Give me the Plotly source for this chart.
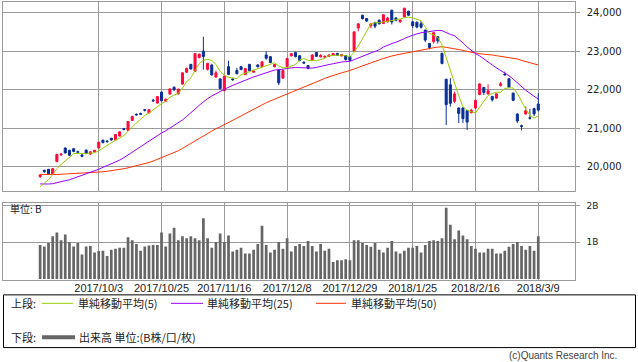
import plotly.graph_objects as go
import pandas as pd

# ---------------- data ----------------
# closes before the first visible day (needed for the moving averages' lead-in)
hist_close = [20056, 20032, 20082, 19994, 19929, 20081, 20195, 20098, 20100, 20119,
              20033, 20021, 20145, 20100, 19976, 19955, 20050, 20080, 19960, 19925,
              19986, 20080, 20029, 19952, 20056, 19996, 19739, 19730, 19537, 19753,
              19729, 19703, 19470, 19393, 19384, 19435, 19354, 19453, 19450, 19363,
              19507, 19646, 19691, 19508, 19386, 19358, 19397, 19275, 19546]

opens = [19735, 19900, 19925, 19800, 20125, 20300, 20480, 20420, 20460, 20385,
         20300, 20425, 20320, 20380, 20480, 20685, 20660, 20735, 20690, 20790,
         20985, 20940, 21195, 21360, 21375, 21480, 21395, 21725, 21650, 21935,
         21700, 21885, 22060, 21890, 22145, 22455, 22660, 22475, 22835, 23005,
         22530, 22645, 22330, 22280, 21975, 22600, 22280, 22500, 22600, 22390,
         22660, 22455, 22645, 22600, 22905, 22860, 22600, 22515, 22300, 22600,
         22880, 22970, 22885, 22715, 22627, 22775, 22970, 22855, 22845, 22870,
         22905, 22945, 22880, 22886, 22860, 23008, 23610, 23940, 23852, 23665,
         23750, 23810, 23723, 23767, 24070, 23870, 23770, 23896, 24044, 23767,
         23760, 23720, 23552, 23205, 23250, 23378, 22946, 22273, 22126, 21695,
         21522, 21522, 21454, 21400, 21522, 21870, 22058, 21890, 21824, 21780,
         22110, 22402, 22283, 21910, 21366, 21060, 21366, 21270, 21506, 21626]
highs = [19800, 19910, 19930, 19950, 20330, 20345, 20490, 20430, 20470, 20410,
         20310, 20440, 20395, 20430, 20640, 20690, 20680, 20740, 20840, 20910,
         21000, 21180, 21320, 21380, 21400, 21500, 21490, 21760, 21830, 21950,
         21770, 22030, 22090, 22030, 22450, 22570, 22670, 22950, 22940, 23380,
         22700, 22660, 22500, 22290, 22370, 22750, 22300, 22570, 22610, 22560,
         22670, 22520, 22660, 22740, 23000, 22870, 22670, 22530, 22510, 22830,
         22950, 22990, 22900, 22740, 22640, 22920, 22980, 22925, 22890, 22920,
         22950, 22960, 22930, 22900, 22870, 23520, 23730, 23950, 23865, 23730,
         23770, 23830, 23960, 23900, 24085, 23880, 23830, 24130, 24060, 23780,
         23770, 23790, 23560, 23210, 23500, 23400, 22960, 22280, 22300, 21950,
         21540, 21550, 21470, 21500, 21740, 22170, 22070, 22140, 21830, 21900,
         22200, 22470, 22300, 21920, 21380, 21090, 21565, 21500, 21530, 21910]
lows = [19700, 19830, 19790, 19780, 20110, 20280, 20340, 20270, 20370, 20330,
        20240, 20320, 20300, 20365, 20470, 20600, 20620, 20670, 20680, 20780,
        20940, 20930, 21190, 21320, 21340, 21430, 21380, 21680, 21640, 21700,
        21680, 21870, 21960, 21870, 22140, 22440, 22520, 22470, 22820, 22520,
        22500, 22370, 22310, 22000, 21960, 22380, 22230, 22400, 22510, 22380,
        22480, 22440, 22580, 22590, 22780, 22690, 22580, 22120, 22290, 22590,
        22870, 22840, 22740, 22670, 22530, 22760, 22850, 22840, 22830, 22850,
        22890, 22880, 22870, 22760, 22750, 23000, 23520, 23830, 23770, 23600,
        23600, 23700, 23720, 23750, 23700, 23780, 23740, 23880, 23920, 23610,
        23600, 23590, 23240, 23050, 23200, 23200, 22660, 21080, 21560, 21650,
        21130, 21130, 20950, 21380, 21500, 21860, 21860, 21870, 21690, 21760,
        22080, 22360, 22050, 21700, 21130, 20940, 21350, 21220, 21310, 21430]
closes = [19777, 19866, 19807, 19940, 20310, 20320, 20350, 20290, 20390, 20365,
          20260, 20345, 20380, 20420, 20630, 20620, 20645, 20690, 20830, 20900,
          20965, 21170, 21300, 21345, 21362, 21465, 21480, 21710, 21820, 21710,
          21750, 22020, 22000, 22012, 22440, 22555, 22540, 22940, 22925, 22865,
          22685, 22385, 22440, 22028, 22351, 22396, 22262, 22416, 22523, 22550,
          22496, 22486, 22597, 22725, 22819, 22707, 22655, 22177, 22498, 22811,
          22938, 22866, 22758, 22694, 22553, 22902, 22868, 22892, 22866, 22903,
          22939, 22892, 22911, 22784, 22765, 23506, 23715, 23850, 23788, 23710,
          23654, 23715, 23952, 23868, 23763, 23808, 23816, 24124, 23940, 23669,
          23632, 23629, 23292, 23098, 23486, 23274, 22682, 21610, 21645, 21890,
          21382, 21245, 21154, 21465, 21720, 22149, 21925, 21970, 21736, 21892,
          22154, 22390, 22068, 21724, 21182, 21042, 21450, 21253, 21368, 21469]
# volume in billions
volume = [0.93, 0.886, 0.98, 1.165, 1.27, 1.06, 1.217, 1.0, 0.886, 0.98,
          0.668, 0.886, 0.90, 0.72, 0.764, 0.773, 0.625, 0.80, 0.825, 0.851,
          0.851, 1.138, 1.06, 0.956, 0.773, 0.886, 0.912, 0.93, 0.93, 1.27,
          0.886, 1.243, 1.40, 1.06, 1.165, 1.112, 1.165, 1.112, 1.06, 1.66,
          1.112, 0.851, 1.008, 1.243, 1.008, 1.19, 0.747, 0.80, 0.851, 0.695,
          0.695, 0.80, 0.956, 1.45, 0.93, 0.72, 0.80, 1.008, 0.825, 1.112,
          0.747, 0.903, 0.956, 0.903, 1.034, 0.903, 0.747, 0.956, 0.773, 0.825,
          0.46, 0.512, 0.512, 0.538, 0.512, 1.06, 1.06, 0.98, 0.93, 0.877,
          0.98, 0.80, 0.72, 0.851, 1.034, 0.747, 0.695, 0.773, 0.851, 0.851,
          0.903, 0.72, 0.93, 1.034, 1.06, 1.034, 1.112, 1.948, 1.478, 1.086,
          1.321, 1.19, 1.086, 0.903, 0.825, 0.72, 0.72, 0.825, 0.825, 0.695,
          0.695, 0.773, 0.877, 0.956, 1.008, 0.903, 0.80, 0.903, 0.773, 1.165]

tick_labels = ["2017/10/3", "2017/10/25", "2017/11/16", "2017/12/8",
               "2017/12/29", "2018/1/25", "2018/2/16", "2018/3/9"]
tick_idx = [14, 29, 44, 59, 74, 89, 104, 119]

price_ticks = [20000, 21000, 22000, 23000, 24000]
vol_ticks = [1, 2]
vol_tick_text = ["1B", "2B"]

# ---------------- derived ----------------
n = len(closes)
xs = list(range(n))
allc = pd.Series(hist_close + closes, dtype=float)
nh = len(hist_close)
ma5 = allc.rolling(5).mean().iloc[nh:].tolist()
ma25 = allc.rolling(25).mean().iloc[nh:].tolist()
ma50 = allc.rolling(50).mean().iloc[nh:].tolist()

RED = "#ff0a3c"
BLUE = "#0a2f96"
C5 = "#99cc00"
C25 = "#9900ff"
C50 = "#ff3300"
GRID = "#9a9a9a"

W, H = 638, 362
def pxx(x): return x / W
def pyy(y): return 1 - y / H

fig = go.Figure()
fig.add_trace(go.Candlestick(
    x=xs, open=opens, high=highs, low=lows, close=closes,
    increasing=dict(line=dict(color=RED, width=1), fillcolor=RED),
    decreasing=dict(line=dict(color=BLUE, width=1), fillcolor=BLUE),
    whiskerwidth=0, xaxis="x", yaxis="y", showlegend=False, hoverinfo="skip"))
for vals, col in [(ma50, C50), (ma25, C25), (ma5, C5)]:
    fig.add_trace(go.Scatter(x=xs, y=vals, mode="lines", line=dict(color=col, width=1),
                             xaxis="x", yaxis="y", showlegend=False, hoverinfo="skip"))
fig.add_trace(go.Bar(x=xs, y=volume, width=0.65, marker=dict(color="#666666", line=dict(width=0)),
                     xaxis="x2", yaxis="y2", showlegend=False, hoverinfo="skip"))

xdom = [pxx(3.3), pxx(574.7)]
xr = [-8.8, 127.7]
axfont = dict(family="DejaVu Sans", size=10, color="#222222")

fig.update_layout(
    width=W, height=H, margin=dict(l=0, r=0, t=0, b=0),
    paper_bgcolor="white", plot_bgcolor="white", showlegend=False,
    xaxis=dict(domain=xdom, range=xr, anchor="y", tickvals=tick_idx, showticklabels=False,
               showgrid=True, gridcolor=GRID, gridwidth=1, zeroline=False,
               showline=True, mirror=True, linecolor=GRID, linewidth=1,
               rangeslider=dict(visible=False), ticks=""),
    yaxis=dict(domain=[pyy(190), pyy(0.5)], range=[19360, 24272], side="right", anchor="x",
               tickvals=price_ticks, ticktext=[f"{v:,}" for v in price_ticks],
               tickfont=axfont, ticks="outside", ticklen=4, tickcolor=GRID,
               ticklabelstandoff=5,
               showgrid=True, gridcolor=GRID, gridwidth=1, zeroline=False,
               showline=True, mirror=True, linecolor=GRID, linewidth=1),
    xaxis2=dict(domain=xdom, range=xr, anchor="y2", tickvals=tick_idx, ticktext=tick_labels,
                tickfont=dict(family="Liberation Sans", size=11, color="#222222"),
                ticklabelstandoff=-3,
                showgrid=True, gridcolor=GRID, gridwidth=1, zeroline=False,
                showline=True, mirror=True, linecolor=GRID, linewidth=1, ticks=""),
    yaxis2=dict(domain=[pyy(280), pyy(201.7)], range=[-0.042, 2.086], side="right", anchor="x2",
                tickvals=vol_ticks, ticktext=vol_tick_text,
                tickfont=dict(family="DejaVu Sans", size=9, color="#222222"),
                ticks="outside", ticklen=4, tickcolor=GRID, ticklabelstandoff=5,
                showgrid=True, gridcolor=GRID, gridwidth=1, zeroline=False,
                showline=True, mirror=True, linecolor=GRID, linewidth=1),
)

jp = "Noto Sans CJK JP"
shapes = []
annots = []
def text(x, y, s, size=11, anchor="left", color="#222222", family=jp):
    annots.append(dict(x=pxx(x), y=pyy(y), xref="paper", yref="paper", text=s, showarrow=False,
                       xanchor=anchor, yanchor="middle", borderpad=0,
                       font=dict(family=family, size=size, color=color)))
def hline(x0, x1, y, color, w):
    shapes.append(dict(type="line", xref="paper", yref="paper", x0=pxx(x0), x1=pxx(x1),
                       y0=pyy(y), y1=pyy(y), line=dict(color=color, width=w)))

text(9, 208, "単位: B", size=10)
shapes.append(dict(type="rect", xref="paper", yref="paper", x0=pxx(3.5), x1=pxx(635.5),
                   y0=pyy(294.5), y1=pyy(347.5), line=dict(color="#000000", width=1)))
r1 = 303
text(10, r1, "上段:")
hline(42, 73, r1, C5, 1)
text(77, r1, "単純移動平均(5)")
hline(171, 203, r1, C25, 1)
text(206, r1, "単純移動平均(25)")
hline(316, 346, r1, C50, 1)
text(350, r1, "単純移動平均(50)")
r2 = 337
text(10, r2, "下段:")
hline(42, 75, r2, "#666666", 4)
text(78, r2, "出来高 単位:(B株/口/枚)")
text(618, 355, "(c)Quants Research Inc.", size=10, anchor="right", color="#444444",
     family="Liberation Sans")

fig.update_layout(shapes=shapes, annotations=annots)
fig.write_html("out.html", config={"displayModeBar": False},
               post_script="document.body.style.margin='0';document.body.style.overflow='hidden';")
